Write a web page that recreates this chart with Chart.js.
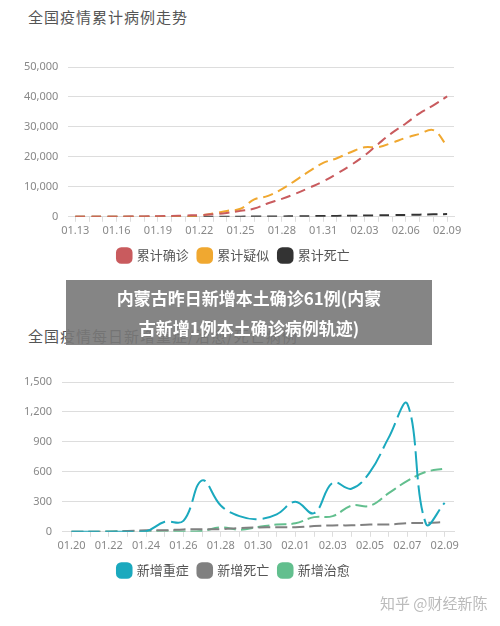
<!DOCTYPE html>
<html>
<head>
<meta charset="utf-8">
<script src="https://cdn.jsdelivr.net/npm/chart.js@4"></script>
<style>
  body { margin: 0; background: #fff; font-family: "Noto Sans CJK SC", sans-serif; }
  .box { position: absolute; left: 0; width: 500px; }
  .title { position: absolute; left: 28px; font-size: 15px; color: #555; letter-spacing: 1px; }
  .banner { position: absolute; left: 66px; top: 280px; width: 366px; height: 65px; background: rgba(120,120,120,0.9);
            color: #fff; font-weight: bold; font-size: 17px; line-height: 30px; text-align: center; padding-top: 3px; box-sizing: border-box; }
  .mark { position: absolute; left: 380px; top: 592px; font-size: 15px; color: #bbb; }
</style>
</head>
<body>
<div class="title" style="top:6px">全国疫情累计病例走势</div>
<div class="box" style="top:0;height:280px"><canvas id="totalChart"></canvas></div>
<div class="title" style="top:325px">全国疫情每日新增重症/治愈/死亡病例</div>
<div class="box" style="top:280px;height:346px"><canvas id="dailyChart"></canvas></div>
<div class="banner">内蒙古昨日新增本土确诊61例(内蒙<br>古新增1例本土确诊病例轨迹)</div>
<div class="mark">知乎 @财经新陈</div>
<script>
// 累计数据 01.13 - 02.09
const totalDays = ['01.13','01.14','01.15','01.16','01.17','01.18','01.19','01.20','01.21','01.22','01.23','01.24','01.25','01.26',
    '01.27','01.28','01.29','01.30','01.31','02.01','02.02','02.03','02.04','02.05','02.06','02.07','02.08','02.09'];
const totalConfirmed = [41,41,41,45,62,121,198,291,440,571,830,1287,1975,2744,4515,5974,7711,9692,11791,14380,17205,20438,24324,28018,31161,34546,37198,40171];
const totalSuspected = [0,0,0,0,0,0,0,0,0,393,1072,1965,2684,5794,6973,9239,12167,15238,17988,19544,21558,23214,23260,24702,26359,27657,28942,23589];
const totalDeaths = [1,1,1,1,2,2,3,6,9,17,25,41,56,80,106,132,170,213,259,304,361,425,490,563,636,722,811,908];

// 每日新增 01.20 - 02.09
const dailyDays = ['01.20','01.21','01.22','01.23','01.24','01.25','01.26','01.27','01.28','01.29','01.30',
    '01.31','02.01','02.02','02.03','02.04','02.05','02.06','02.07','02.08','02.09'];
const dailySevere = [0,0,0,0,5,100,110,515,263,157,127,175,300,186,492,431,600,943,1280,80,290];
const dailyDeaths = [0,0,0,8,15,15,24,26,26,38,43,46,45,57,64,65,73,73,86,89,97];
const dailyCured = [0,0,3,6,3,11,2,9,43,21,47,73,85,147,157,262,261,387,510,600,632];

const tickFont = { size: 11, family: 'Noto Sans' };

const lineSet = (label, data, color, dash) => ({
    label, data,
    borderColor: color,
    backgroundColor: color,
    borderWidth: 2,
    borderDash: dash,
    pointRadius: 0,
    tension: 0.4
});

const baseOptions = (everyN, yMax, yStep, padTop, padBottom) => ({
    responsive: true,
    maintainAspectRatio: false,
    animation: false,
    layout: { padding: { top: padTop, left: 14, right: 46, bottom: padBottom } },
    plugins: {
        legend: {
            position: 'bottom',
            labels: {
                usePointStyle: true, pointStyle: 'rectRounded', boxWidth: 12, boxHeight: 12,
                padding: 10, color: '#555', font: { size: 13, family: 'Noto Sans CJK SC' }
            }
        }
    },
    scales: {
        x: {
            offset: true,
            grid: { drawOnChartArea: false, tickLength: 5, color: '#ddd' },
            border: { color: '#ddd' },
            ticks: {
                autoSkip: false, maxRotation: 0, color: '#888', font: tickFont, padding: 2,
                callback(v, i) { return i % everyN === 0 ? this.getLabelForValue(v) : ''; }
            }
        },
        y: {
            min: 0, max: yMax,
            ticks: { stepSize: yStep, color: '#888', font: tickFont, padding: 10 },
            grid: { color: '#ddd', drawTicks: false },
            border: { display: false }
        }
    }
});

new Chart(document.getElementById('totalChart'), {
    type: 'line',
    data: {
        labels: totalDays,
        datasets: [
            lineSet('累计确诊', totalConfirmed, '#c95b5e', [10, 6]),
            lineSet('累计疑似', totalSuspected, '#f0a830', [10, 6]),
            lineSet('累计死亡', totalDeaths, '#333333', [10, 6])
        ]
    },
    options: baseOptions(3, 50000, 10000, 67, 8)
});

new Chart(document.getElementById('dailyChart'), {
    type: 'line',
    data: {
        labels: dailyDays,
        datasets: [
            lineSet('新增重症', dailySevere, '#1ba9be', [28, 6]),
            lineSet('新增死亡', dailyDeaths, '#808080', [12, 5]),
            lineSet('新增治愈', dailyCured, '#62bf8e', [12, 5])
        ]
    },
    options: baseOptions(2, 1500, 300, 102, 39)
});
</script>
</body>
</html>
